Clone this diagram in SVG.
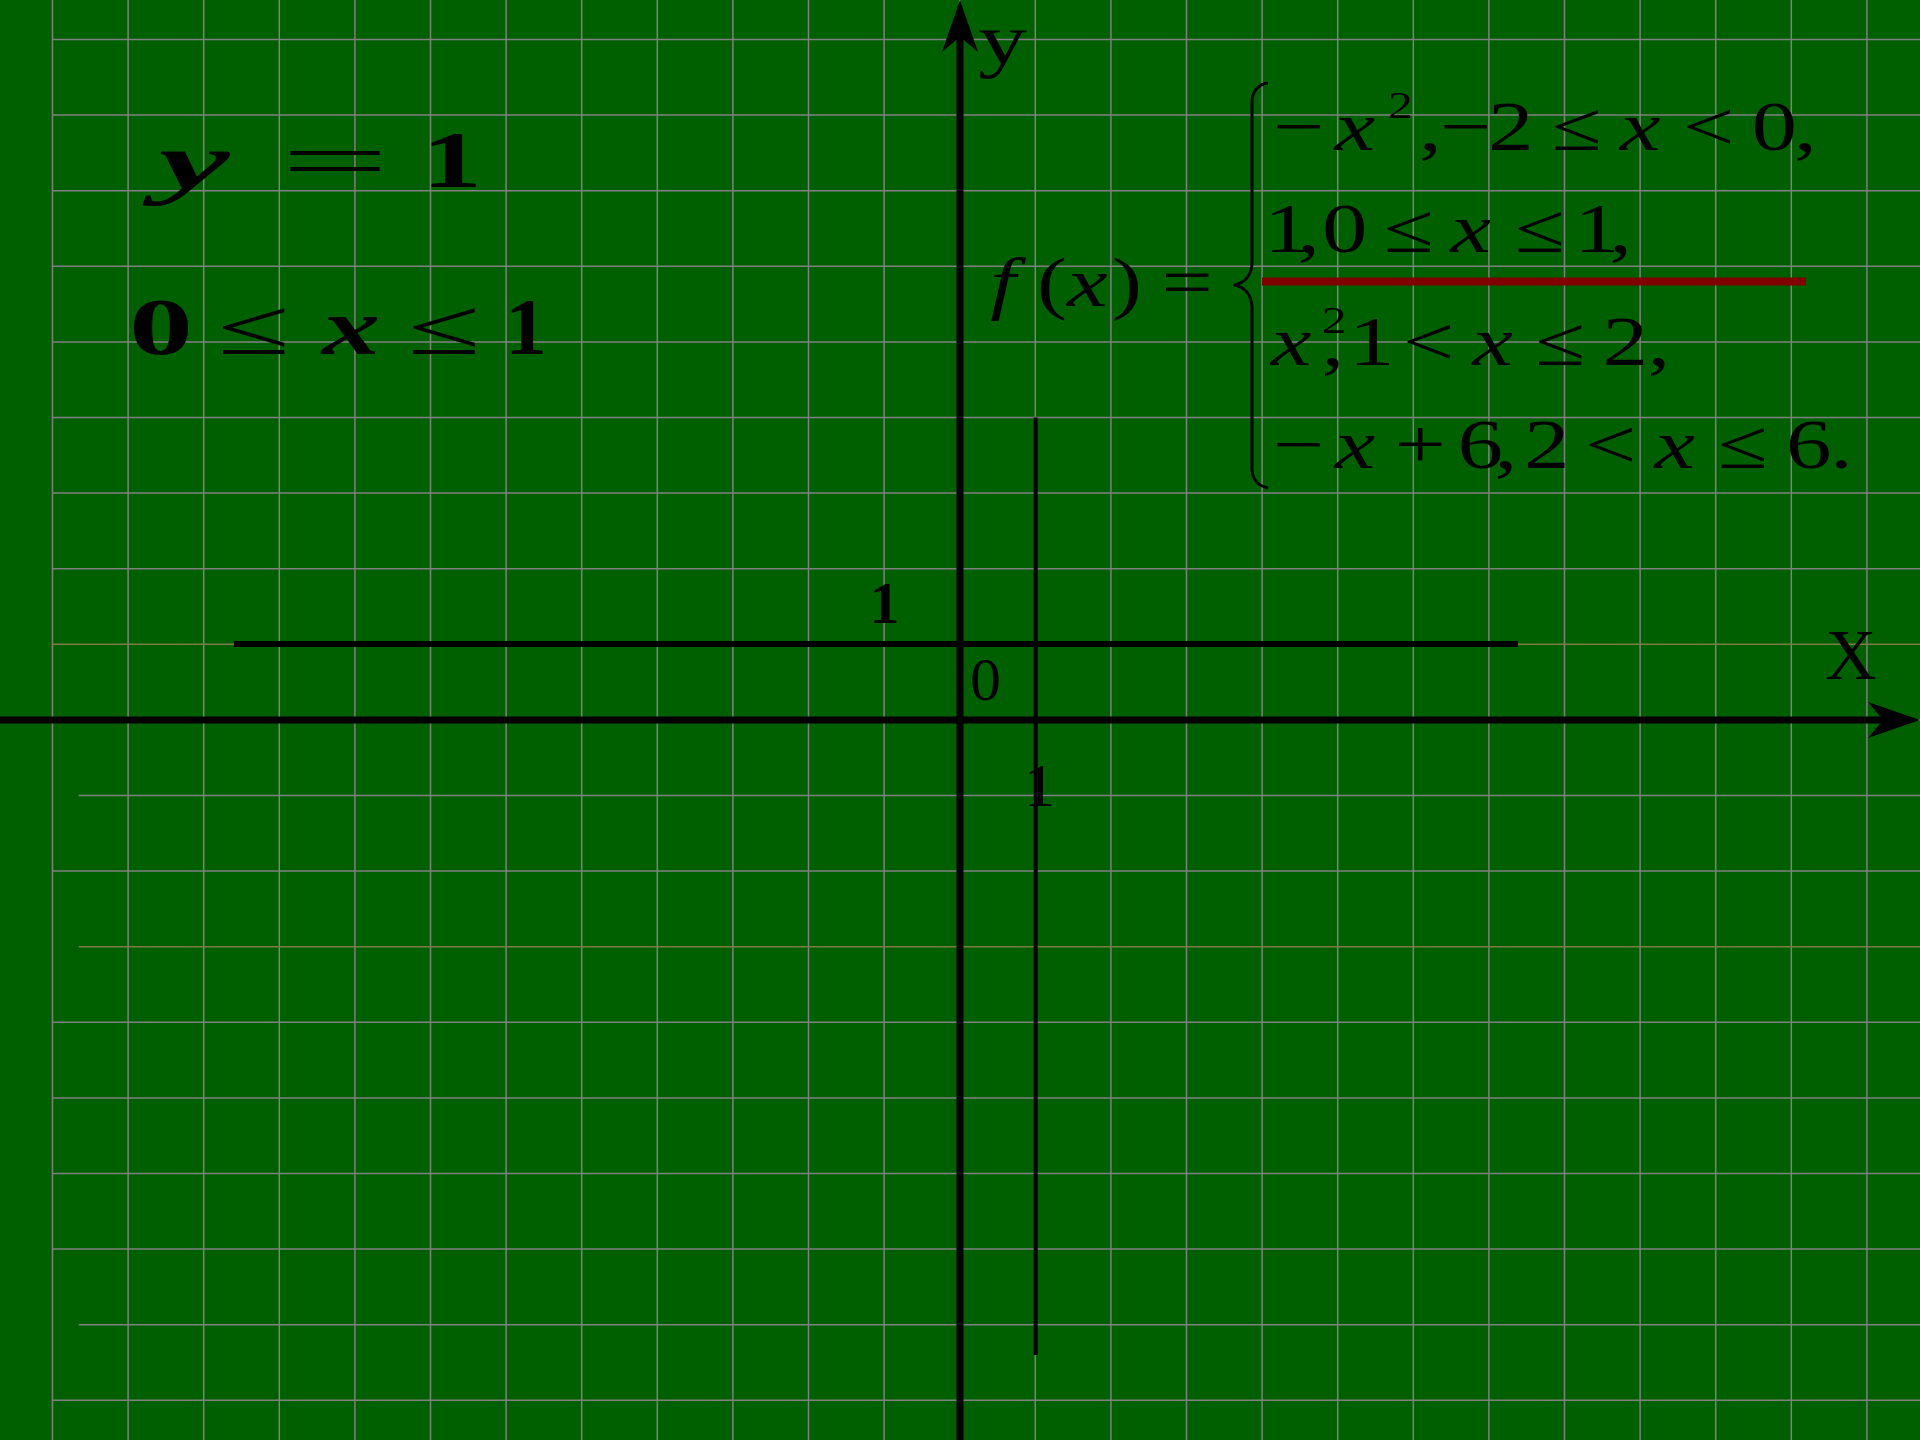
<svg xmlns="http://www.w3.org/2000/svg" width="1920" height="1440" viewBox="0 0 1920 1440">
<style>
.f{font-family:"Liberation Serif","Times New Roman",serif;fill:#000;text-anchor:middle}
.s{font-family:"Liberation Serif","Times New Roman",serif;fill:#000;text-anchor:start;font-size:70px}
.i{font-style:italic}
.bi{font-style:italic;font-weight:bold}
.b{font-weight:bold}
.grid{stroke:#808080;stroke-width:1.5;fill:none}
.ax{stroke:#000;stroke-width:7;fill:none}
</style>
<defs>
<marker id="arr" markerUnits="userSpaceOnUse" markerWidth="60" markerHeight="40" viewBox="-55 -20 60 40" refX="-37" refY="0" orient="auto">
<path d="M0,0 L-52,-18 L-37,0 L-52,18 Z" fill="#000"/>
</marker>
</defs>
<rect width="1920" height="1440" fill="#006000"/>
<g id="grid">
<path class="grid" d="M52.5,0V1440M128.1,0V1440M203.7,0V1440M279.3,0V1440M354.9,0V1440M430.5,0V1440M506.1,0V1440M581.7,0V1440M657.3,0V1440M732.9,0V1440M808.5,0V1440M884.1,0V1440M959.7,0V1440M1035.3,0V1440M1110.9,0V1440M1186.5,0V1440M1262.1,0V1440M1337.7,0V1440M1413.3,0V1440M1488.9,0V1440M1564.5,0V1440M1640.1,0V1440M1715.7,0V1440M1791.3,0V1440M1866.9,0V1440"/>
<path class="grid" d="M52.5,39.5H1920M52.5,115.1H1920M52.5,190.7H1920M52.5,266.3H1920M52.5,341.9H1920M52.5,417.5H1920M52.5,493.1H1920M52.5,568.7H1920M52.5,719.9H1920M78.7,795.5H1920M52.5,871.1H1920M52.5,1022.3H1920M52.5,1097.9H1920M52.5,1173.5H1920M52.5,1249.1H1920M78.7,1324.7H1920M52.5,1400.3H1920"/>
<path d="M52.5,644.3H1920M78.7,946.7H1920" stroke="#7c7c44" stroke-width="1.5" fill="none"/>
</g>
<g id="connectors">
<line id="x-axis" class="ax" x1="0" y1="720" x2="1883" y2="720" marker-end="url(#arr)"/>
<line id="y-axis" class="ax" x1="960" y1="1440" x2="960" y2="37" marker-end="url(#arr)"/>
<line id="line-y1" x1="234" y1="644" x2="1518" y2="644" stroke="#000" stroke-width="6"/>
<line id="line-x1" x1="1035.7" y1="417.5" x2="1035.7" y2="1355" stroke="#000" stroke-width="4"/>
<line id="red-line" x1="1262" y1="281.5" x2="1806" y2="281.5" stroke="#800000" stroke-width="8"/>
</g>
<g id="axis-labels">
<text class="f" font-size="72" transform="translate(1002.5,64) scale(1.35,1)">y</text>
<text class="f" font-size="71" x="1851" y="679">X</text>
<text class="f" font-size="62" x="985.5" y="700">0</text>
<text class="f b" font-size="60" x="884.5" y="623">1</text>
<text class="f" font-size="62" x="1039.5" y="805.7">1</text>
</g>
<g id="eq-y1">
<text class="f bi" font-size="80" transform="translate(194,189) scale(2.0,1)">y</text>
<text class="f" font-size="80" transform="translate(335,188) scale(2.4,1)">=</text>
<text class="f b" font-size="80" transform="translate(452,187) scale(1.5,1)">1</text>
</g>
<g id="eq-range">
<text class="f b" font-size="80" transform="translate(161,354) scale(1.6,1)">0</text>
<text class="f" font-size="80" transform="translate(254,354) scale(1.65,1)">≤</text>
<text class="f bi" font-size="80" transform="translate(351,354) scale(1.45,1)">x</text>
<text class="f" font-size="80" transform="translate(444.5,354) scale(1.65,1)">≤</text>
<text class="f b" font-size="80" transform="translate(526,354) scale(1.05,1)">1</text>
</g>
<g id="fx">
<text class="s" transform="translate(982,306) scale(1.3,1)"><tspan class="i" x="6.27">f</tspan><tspan x="42.04">(</tspan><tspan class="i" x="65.46">x</tspan><tspan x="99.74 138.16">)=</tspan></text>
</g>
<g id="piecewise">
<path d="M1268,83 C1258,84 1252,92 1252,102 L1252,262 C1252,276 1244,283 1234,285 C1244,287 1252,294 1252,308 L1252,468 C1252,479 1258,486 1268,488" fill="none" stroke="#000" stroke-width="3"/>
<text class="s" transform="translate(1270,150) scale(1.3,1)"><tspan x="2.36">−</tspan><tspan class="i" x="49.76">x</tspan><tspan x="90.7" y="-32" font-size="38">2</tspan><tspan x="114.55 130.86 167.7 216.78" y="0">,−2≤</tspan><tspan class="i" x="269.26">x</tspan><tspan x="317.76 370.4 403.05">&lt;0,</tspan></text>
<text class="s" transform="translate(1270,252) scale(1.3,1)"><tspan x="-4.6 21.05 40 87.58">1,0≤</tspan><tspan class="i" x="138.76">x</tspan><tspan x="188.28 233.9 261.05">≤1,</tspan></text>
<text class="s" transform="translate(1270,365) scale(1.3,1)"><tspan class="i" x="0.76">x</tspan><tspan x="39.8" y="-32" font-size="38">2</tspan><tspan x="39.55 60.8 102.36" y="0">,1&lt;</tspan><tspan class="i" x="155.76">x</tspan><tspan x="204.08 255.8 290.35">≤2,</tspan></text>
<text class="s" transform="translate(1270,468) scale(1.3,1)"><tspan x="2.36">−</tspan><tspan class="i" x="49.76">x</tspan><tspan x="95.86 144.3 172.65 195.4 242.36">+6,2&lt;</tspan><tspan class="i" x="295.76">x</tspan><tspan x="344.48 397 430.75">≤6.</tspan></text>
</g>
</svg>
